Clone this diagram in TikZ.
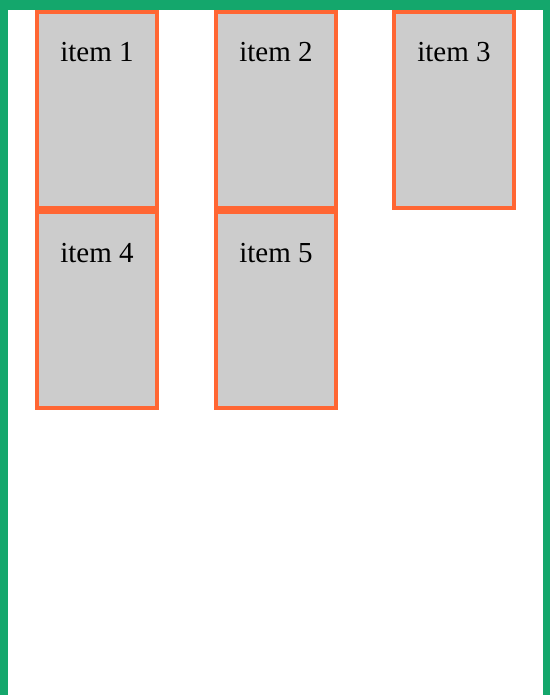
\documentclass[tikz,border=0pt]{standalone}
\usepackage{fontspec}
\setmainfont{Liberation Serif}
\usetikzlibrary{positioning}
\definecolor{framegreen}{RGB}{20,167,108}
\definecolor{itemorange}{RGB}{255,102,51}
\definecolor{itemgray}{RGB}{204,204,204}

\begin{document}
\begin{tikzpicture}[
x=1pt, y=-1pt,
itembox/.style={rectangle, draw=itemorange, fill=itemgray, line width=4pt, minimum width=120pt, minimum height=196pt, inner sep=0pt},
itemtext/.style={anchor=base, inner sep=0pt, font=\fontsize{29}{34}\selectfont},
]
\useasboundingbox (0,0) rectangle (550,695);
% outer frame
\fill[framegreen] (0,0) rectangle (550,10);
\fill[framegreen] (0,0) rectangle (8,695);
\fill[framegreen] (543,0) rectangle (550,695);
% items
\node[itembox] (item1) at (97,110) {};
\node[itembox, right=55pt of item1] (item2) {};
\node[itembox, right=54pt of item2] (item3) {};
\node[itembox, below=0pt of item1] (item4) {};
\node[itembox, below=0pt of item2] (item5) {};
\foreach \i in {1,...,5}
    \node[itemtext] (label\i) at ([yshift=-52pt]item\i.north) {item \i};
\end{tikzpicture}
\end{document}
